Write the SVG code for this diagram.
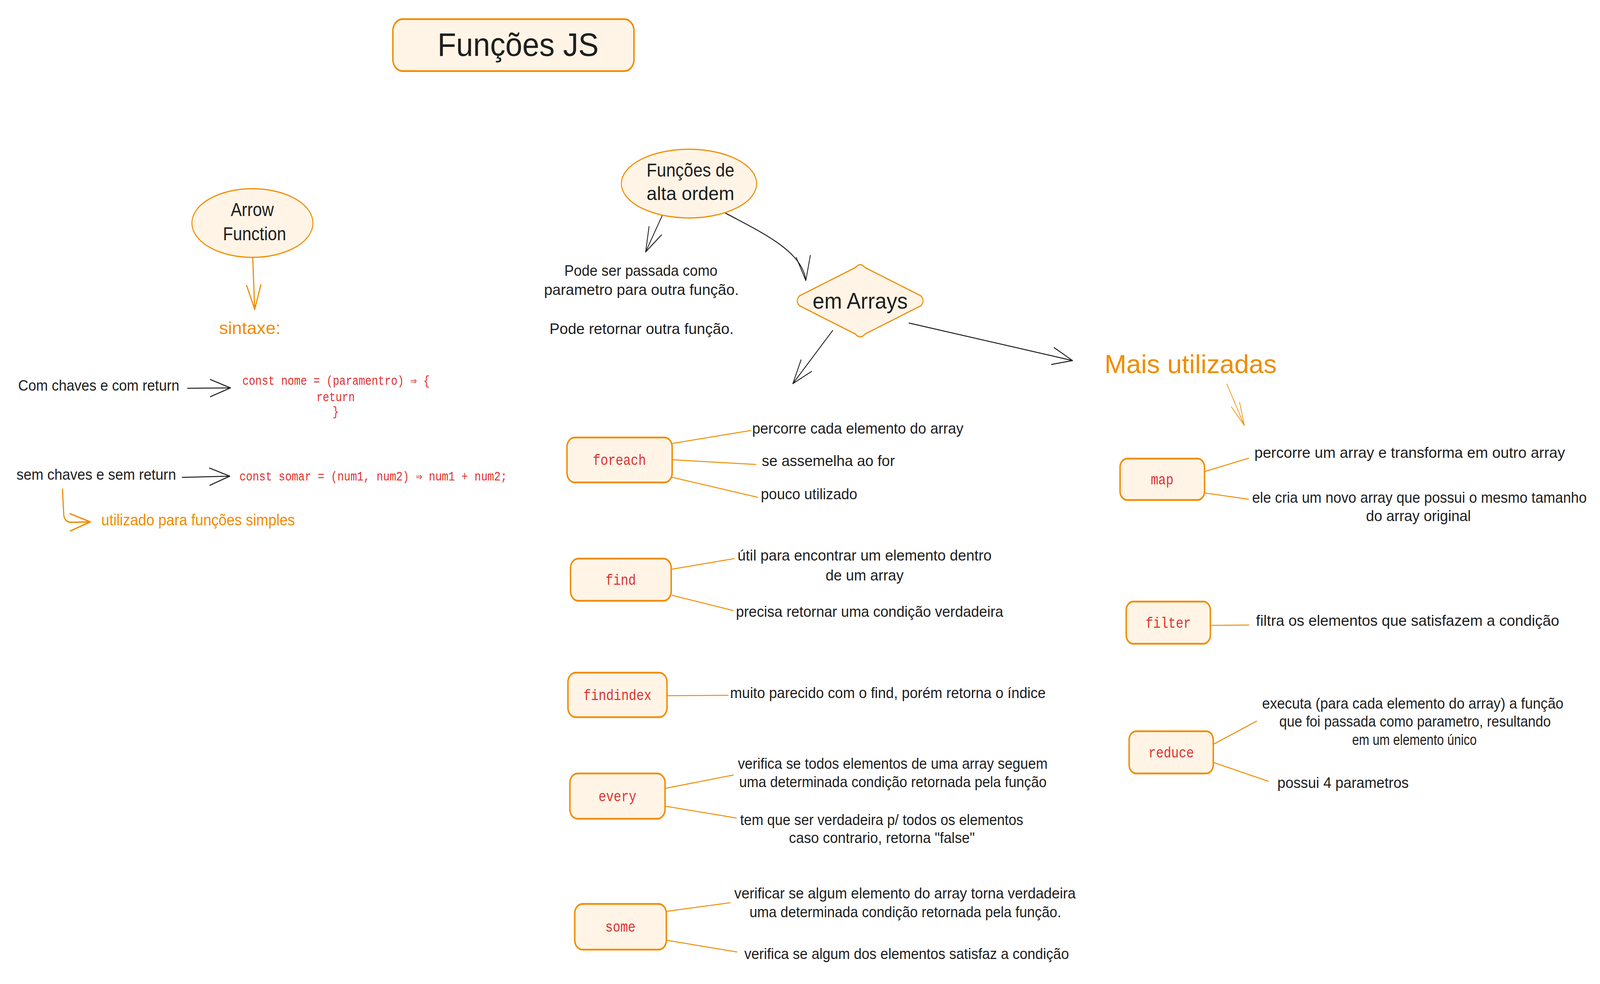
<svg xmlns="http://www.w3.org/2000/svg" width="4944" height="2519" viewBox="0 0 4944 2519" preserveAspectRatio="none">
<defs>
<style>
svg{width:100%;height:100%;}
.hand{font-family:"Liberation Sans","DejaVu Sans",sans-serif;fill:#1e1e1e;}
.orangeT{font-family:"Liberation Sans","DejaVu Sans",sans-serif;fill:#f08c00;}
.code{font-family:"Liberation Mono","DejaVu Sans Mono",monospace;fill:#e03131;}
.box{fill:#fff4e6;stroke:#f08c00;stroke-width:4.5;}
.conn{stroke:#f08c00;stroke-width:2.5;fill:none;stroke-linecap:round;}
.arrB{stroke:#1e1e1e;stroke-width:2.5;fill:none;stroke-linecap:round;}
.arrO{stroke:#f08c00;stroke-width:3.5;fill:none;stroke-linecap:round;}
</style>
<marker id="headB" markerUnits="userSpaceOnUse" orient="auto" overflow="visible" refX="0" refY="0" markerWidth="1" markerHeight="1">
<path d="M-62,-22 L0,0 L-62,22" fill="none" stroke="#1e1e1e" stroke-width="2.5" stroke-linecap="round" stroke-linejoin="round"/>
</marker>
<marker id="headO" markerUnits="userSpaceOnUse" orient="auto" overflow="visible" refX="0" refY="0" markerWidth="1" markerHeight="1">
<path d="M-62,-22 L0,0 L-62,22" fill="none" stroke="#f08c00" stroke-width="3.5" stroke-linecap="round" stroke-linejoin="round"/>
</marker>
<marker id="headOthin" markerUnits="userSpaceOnUse" orient="auto" overflow="visible" refX="0" refY="0" markerWidth="1" markerHeight="1">
<path d="M-60,-14 L0,0 L-60,14" fill="none" stroke="#f08c00" stroke-width="2" stroke-linecap="round" stroke-linejoin="round"/>
</marker>
</defs>
<rect width="4944" height="2519" fill="#ffffff"/>

<g id="connectors">
<path class="arrO" d="M781,660 L787,792" marker-end="url(#headO)"/>
<path class="arrB" d="M580,994 L712,993" marker-end="url(#headB)"/>
<path class="arrB" d="M563,1222 L710,1219" marker-end="url(#headB)"/>
<path class="arrO" d="M193,1252 L197,1318 Q200,1338 222,1337 L279,1336" marker-end="url(#headO)"/>
<path class="arrB" d="M2050,545 L1995,645" marker-end="url(#headB)"/>
<path class="arrB" d="M2234,542 C2340,590 2480,640 2490,718" marker-end="url(#headB)"/>
<path class="arrB" d="M2573,846 L2450,982" marker-end="url(#headB)"/>
<path class="arrB" d="M2809,827 L3314,923" marker-end="url(#headB)"/>
<path class="conn" d="M3791,983 L3845,1089" marker-end="url(#headOthin)" style="stroke-width:2"/>
<path class="conn" d="M2079,1135 L2320,1102"/>
<path class="conn" d="M2079,1177 L2336,1189"/>
<path class="conn" d="M2077,1222 L2341,1273"/>
<path class="conn" d="M2077,1457 L2269,1430"/>
<path class="conn" d="M2077,1524 L2266,1563"/>
<path class="conn" d="M2063,1781 L2250,1780"/>
<path class="conn" d="M2057,2018 L2266,1984"/>
<path class="conn" d="M2057,2064 L2275,2094"/>
<path class="conn" d="M2060,2333 L2256,2311"/>
<path class="conn" d="M2060,2407 L2277,2437"/>
<path class="conn" d="M3723,1207 L3858,1173"/>
<path class="conn" d="M3723,1262 L3858,1278"/>
<path class="conn" d="M3741,1601 L3859,1600"/>
<path class="conn" d="M3750,1905 L3883,1846"/>
<path class="conn" d="M3750,1952 L3919,2000"/>
</g>

<g id="title">
<rect class="box" x="1214" y="49" width="745" height="133" rx="30"/>
<text class="hand" x="1352" y="143" font-size="84" textLength="498" lengthAdjust="spacingAndGlyphs">Funções JS</text>
</g>

<g id="arrow-function">
<ellipse class="box" cx="780" cy="571" rx="187" ry="88" style="stroke-width:3"/>
<text class="hand" x="713" y="553" font-size="48" textLength="133" lengthAdjust="spacingAndGlyphs">Arrow</text>
<text class="hand" x="689" y="615" font-size="48" textLength="195" lengthAdjust="spacingAndGlyphs">Function</text>
</g>

<g id="sintaxe">
<text class="orangeT" x="677" y="855" font-size="44" textLength="190" lengthAdjust="spacingAndGlyphs">sintaxe:</text>
</g>

<g id="com-chaves">
<text class="hand" x="56" y="1000" font-size="38" textLength="498" lengthAdjust="spacingAndGlyphs">Com chaves e com return</text>
</g>

<g id="code-com-chaves">
<text class="code" x="749" y="985" font-size="33" textLength="579" lengthAdjust="spacingAndGlyphs">const nome = (paramentro) ⇒ {</text>
<text class="code" x="1037" y="1027" font-size="33" text-anchor="middle">return</text>
<text class="code" x="1037" y="1064" font-size="33" text-anchor="middle">}</text>
</g>

<g id="sem-chaves">
<text class="hand" x="51" y="1228" font-size="38" textLength="493" lengthAdjust="spacingAndGlyphs">sem chaves e sem return</text>
</g>

<g id="code-sem-chaves">
<text class="code" x="740" y="1230" font-size="33" textLength="827" lengthAdjust="spacingAndGlyphs">const somar = (num1, num2) ⇒ num1 + num2;</text>
</g>

<g id="utilizado">
<text class="orangeT" x="313" y="1345" font-size="40" textLength="598" lengthAdjust="spacingAndGlyphs">utilizado para funções simples</text>
</g>

<g id="alta-ordem">
<ellipse class="box" cx="2129" cy="470" rx="209" ry="88" style="stroke-width:3"/>
<text class="hand" x="1998" y="452" font-size="48" textLength="271" lengthAdjust="spacingAndGlyphs">Funções de</text>
<text class="hand" x="1998" y="512" font-size="48" textLength="271" lengthAdjust="spacingAndGlyphs">alta ordem</text>
</g>

<g id="pode">
<text class="hand" x="1744" y="706" font-size="38" textLength="473" lengthAdjust="spacingAndGlyphs">Pode ser passada como</text>
<text class="hand" x="1681" y="755" font-size="38" textLength="602" lengthAdjust="spacingAndGlyphs">parametro para outra função.</text>
<text class="hand" x="1698" y="855" font-size="38" textLength="569" lengthAdjust="spacingAndGlyphs">Pode retornar outra função.</text>
</g>

<g id="em-arrays">
<path class="box" style="stroke-width:3" d="M2643,685 Q2658,670 2673,685 L2845,757 Q2860,770 2845,783 L2673,855 Q2658,870 2643,855 L2471,783 Q2456,770 2471,757 Z"/>
<text class="hand" x="2511" y="790" font-size="58" textLength="294" lengthAdjust="spacingAndGlyphs">em Arrays</text>
</g>

<g id="mais-utilizadas">
<text class="orangeT" x="3413" y="955" font-size="66" textLength="532" lengthAdjust="spacingAndGlyphs">Mais utilizadas</text>
</g>

<g id="foreach">
<rect class="box" x="1752" y="1120" width="325" height="115" rx="24"/>
<text class="code" x="1914" y="1190" font-size="39" text-anchor="middle">foreach</text>
<text class="hand" x="2324" y="1110" font-size="38" textLength="653" lengthAdjust="spacingAndGlyphs">percorre cada elemento do array</text>
<text class="hand" x="2354" y="1193" font-size="38" textLength="411" lengthAdjust="spacingAndGlyphs">se assemelha ao for</text>
<text class="hand" x="2351" y="1278" font-size="38" textLength="298" lengthAdjust="spacingAndGlyphs">pouco utilizado</text>
</g>

<g id="find">
<rect class="box" x="1763" y="1430" width="311" height="108" rx="24"/>
<text class="code" x="1918" y="1497" font-size="39" text-anchor="middle">find</text>
<text class="hand" x="2279" y="1435" font-size="38" textLength="785" lengthAdjust="spacingAndGlyphs">útil para encontrar um elemento dentro</text>
<text class="hand" x="2551" y="1486" font-size="38" textLength="241" lengthAdjust="spacingAndGlyphs">de um array</text>
<text class="hand" x="2274" y="1579" font-size="38" textLength="826" lengthAdjust="spacingAndGlyphs">precisa retornar uma condição verdadeira</text>
</g>

<g id="findindex">
<rect class="box" x="1755" y="1722" width="306" height="114" rx="24"/>
<text class="code" x="1908" y="1792" font-size="39" text-anchor="middle">findindex</text>
<text class="hand" x="2256" y="1787" font-size="38" textLength="975" lengthAdjust="spacingAndGlyphs">muito parecido com o find, porém retorna o índice</text>
</g>

<g id="every">
<rect class="box" x="1761" y="1980" width="294" height="116" rx="24"/>
<text class="code" x="1908" y="2051" font-size="39" text-anchor="middle">every</text>
<text class="hand" x="2280" y="1968" font-size="38" textLength="957" lengthAdjust="spacingAndGlyphs">verifica se todos elementos de uma array seguem</text>
<text class="hand" x="2284" y="2015" font-size="38" textLength="950" lengthAdjust="spacingAndGlyphs">uma determinada condição retornada pela função</text>
<text class="hand" x="2287" y="2112" font-size="38" textLength="875" lengthAdjust="spacingAndGlyphs">tem que ser verdadeira p/ todos os elementos</text>
<text class="hand" x="2438" y="2158" font-size="38" textLength="574" lengthAdjust="spacingAndGlyphs">caso contrario, retorna "false"</text>
</g>

<g id="some">
<rect class="box" x="1776" y="2314" width="283" height="117" rx="24"/>
<text class="code" x="1917" y="2385" font-size="39" text-anchor="middle">some</text>
<text class="hand" x="2269" y="2300" font-size="38" textLength="1055" lengthAdjust="spacingAndGlyphs">verificar se algum elemento do array torna verdadeira</text>
<text class="hand" x="2316" y="2348" font-size="38" textLength="963" lengthAdjust="spacingAndGlyphs">uma determinada condição retornada pela função.</text>
<text class="hand" x="2300" y="2455" font-size="38" textLength="1003" lengthAdjust="spacingAndGlyphs">verifica se algum dos elementos satisfaz a condição</text>
</g>

<g id="map">
<rect class="box" x="3461" y="1174" width="261" height="106" rx="22"/>
<text class="code" x="3591" y="1240" font-size="39" text-anchor="middle">map</text>
<text class="hand" x="3876" y="1172" font-size="38" textLength="960" lengthAdjust="spacingAndGlyphs">percorre um array e transforma em outro array</text>
<text class="hand" x="3869" y="1287" font-size="38" textLength="1034" lengthAdjust="spacingAndGlyphs">ele cria um novo array que possui o mesmo tamanho</text>
<text class="hand" x="4221" y="1334" font-size="38" textLength="324" lengthAdjust="spacingAndGlyphs">do array original</text>
</g>

<g id="filter">
<rect class="box" x="3480" y="1540" width="260" height="108" rx="22"/>
<text class="code" x="3610" y="1607" font-size="39" text-anchor="middle">filter</text>
<text class="hand" x="3881" y="1602" font-size="38" textLength="937" lengthAdjust="spacingAndGlyphs">filtra os elementos que satisfazem a condição</text>
</g>

<g id="reduce">
<rect class="box" x="3489" y="1872" width="260" height="108" rx="22"/>
<text class="code" x="3619" y="1939" font-size="39" text-anchor="middle">reduce</text>
<text class="hand" x="3900" y="1814" font-size="38" textLength="931" lengthAdjust="spacingAndGlyphs">executa (para cada elemento do array) a função</text>
<text class="hand" x="3953" y="1860" font-size="38" textLength="839" lengthAdjust="spacingAndGlyphs">que foi passada como parametro, resultando</text>
<text class="hand" x="4178" y="1907" font-size="38" textLength="385" lengthAdjust="spacingAndGlyphs">em um elemento único</text>
<text class="hand" x="3947" y="2017" font-size="38" textLength="406" lengthAdjust="spacingAndGlyphs">possui 4 parametros</text>
</g>
</svg>
